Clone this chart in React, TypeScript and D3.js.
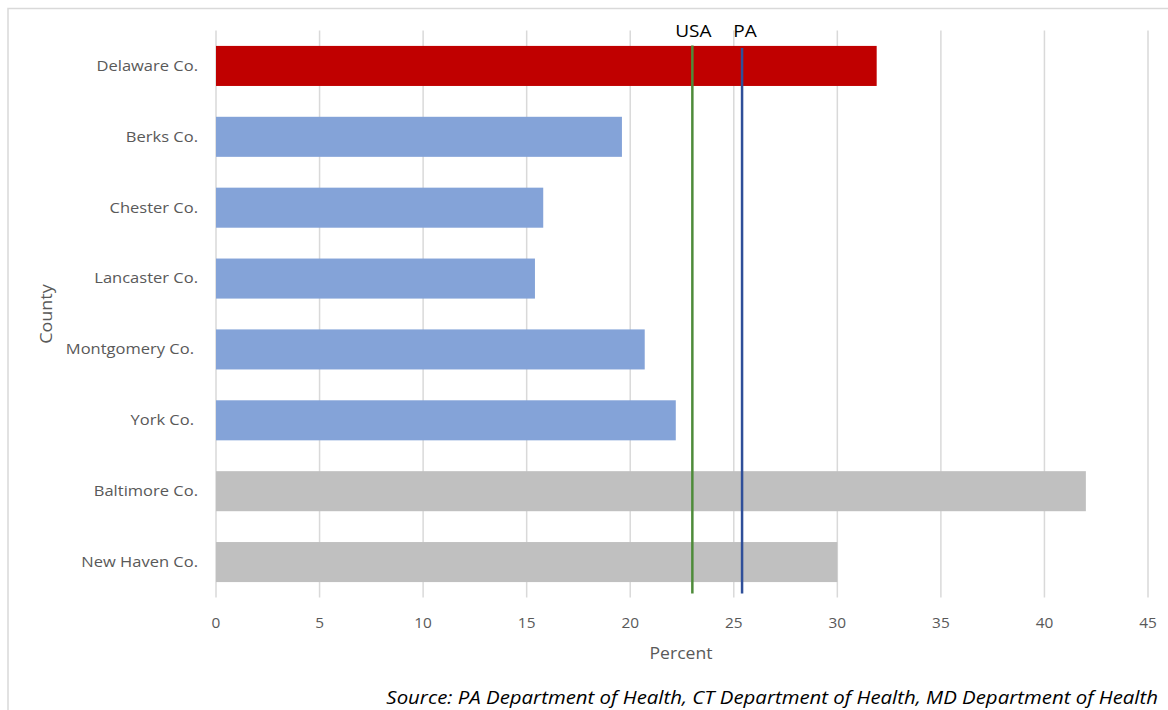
import { useEffect, useRef } from 'react';
import * as d3 from 'd3';

const counties = [
  'Delaware Co.',
  'Berks Co.',
  'Chester Co.',
  'Lancaster Co.',
  'Montgomery Co.',
  'York Co.',
  'Baltimore Co.',
  'New Haven Co.',
];
const percents = [31.9, 19.6, 15.8, 15.4, 20.7, 22.2, 42.0, 30.0];
const barColors = ['#C00000', '#84A3D8', '#84A3D8', '#84A3D8', '#84A3D8', '#84A3D8', '#C0C0C0', '#C0C0C0'];
const refNames = ['USA', 'PA'];
const refValues = [23.0, 25.4];
const refColors = ['#4E8B3A', '#2F4F99'];
const xTicks = [0, 5, 10, 15, 20, 25, 30, 35, 40, 45];

const FONT = '"Open Sans", Lato, sans-serif';
// the reference text is a little wider than Open Sans, so stretch it horizontally
const STRETCH = 1.18;

export default function App() {
  const svgRef = useRef<SVGSVGElement | null>(null);
  const width = 1168;
  const height = 710;

  useEffect(() => {
    if (!svgRef.current) return;
    const svg = d3.select(svgRef.current);
    svg.selectAll('*').remove();

    const margin = { left: 216, right: 20, top: 30.5, bottom: 112.5 };
    const plotW = 1148 - margin.left;
    const plotH = height - margin.top - margin.bottom;

    // chart frame
    svg.append('rect')
      .attr('x', 8).attr('y', 8.5)
      .attr('width', width).attr('height', height)
      .attr('fill', '#fff')
      .attr('stroke', '#D9D9D9').attr('stroke-width', 1.5);

    const x = d3.scaleLinear().domain([0, 45]).range([0, plotW]);
    const y = d3.scaleBand<string>().domain(counties).range([0, plotH]).paddingInner(0.435).paddingOuter(0.2175);

    const g = svg.append('g').attr('transform', `translate(${margin.left},${margin.top})`);

    // vertical gridlines
    g.selectAll('.grid')
      .data(xTicks)
      .enter()
      .append('line')
      .attr('x1', d => x(d)).attr('x2', d => x(d))
      .attr('y1', 0).attr('y2', plotH)
      .attr('stroke', '#D9D9D9').attr('stroke-width', 1.5);

    // bars
    g.selectAll('.bar')
      .data(counties)
      .enter()
      .append('rect')
      .attr('x', 0)
      .attr('y', d => y(d)!)
      .attr('width', (d, i) => x(percents[i]))
      .attr('height', y.bandwidth())
      .attr('fill', (d, i) => barColors[i]);

    // reference lines
    refValues.forEach((v, i) => {
      g.append('line')
        .attr('x1', x(v)).attr('x2', x(v))
        .attr('y1', 15 + i * 2.5).attr('y2', plotH - 4)
        .attr('stroke', refColors[i]).attr('stroke-width', 2.5);
      g.append('text')
        .attr('transform', `translate(${x(v) + (i === 0 ? 1 : 3)},6) scale(1.12,1)`)
        .attr('text-anchor', 'middle')
        .style('font-family', FONT)
        .style('font-size', '17px')
        .style('fill', '#000')
        .text(refNames[i]);
    });

    // x tick labels
    g.selectAll('.xtick')
      .data(xTicks)
      .enter()
      .append('text')
      .attr('transform', d => `translate(${x(d)},${plotH + 30}) scale(1.1,1)`)
      .attr('text-anchor', 'middle')
      .style('font-family', FONT)
      .style('font-size', '14px')
      .style('fill', '#595959')
      .text(d => d);

    // category labels
    g.selectAll('.ylab')
      .data(counties)
      .enter()
      .append('text')
      .attr('transform', d => {
        const lx = d === 'York Co.' || d === 'Montgomery Co.' ? -22 : -18;
        return `translate(${lx},${y(d)! + y.bandwidth() / 2}) scale(${STRETCH},1)`;
      })
      .attr('dy', '0.35em')
      .attr('text-anchor', 'end')
      .style('font-family', FONT)
      .style('font-size', '14px')
      .style('fill', '#595959')
      .text(d => d);

    // axis titles
    svg.append('text')
      .attr('transform', 'translate(681,659) scale(1.1,1)')
      .attr('text-anchor', 'middle')
      .style('font-family', FONT)
      .style('font-size', '16px')
      .style('fill', '#595959')
      .text('Percent');

    svg.append('text')
      .attr('transform', 'translate(52,314) rotate(-90) scale(1.12,1)')
      .attr('text-anchor', 'middle')
      .style('font-family', FONT)
      .style('font-size', '16px')
      .style('fill', '#595959')
      .text('County');

    // source note
    svg.append('text')
      .attr('transform', `translate(1158,704) scale(${STRETCH},1)`)
      .attr('text-anchor', 'end')
      .style('font-family', FONT)
      .style('font-size', '17.3px')
      .style('font-style', 'italic')
      .style('fill', '#000')
      .text('Source: PA Department of Health, CT Department of Health, MD Department of Health');
  }, []);

  return (
    <svg
      ref={svgRef}
      width={width}
      height={height}
      style={{ position: 'absolute', left: 0, top: 0, background: '#fff' }}
    />
  );
}
